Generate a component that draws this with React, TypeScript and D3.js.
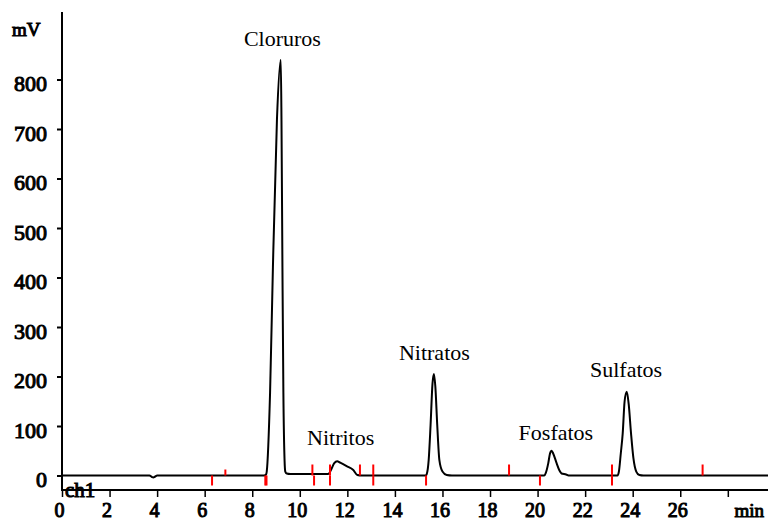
import React, { useEffect, useRef } from 'react';
import * as d3 from 'd3';

// chromatogram trace (min, mV)
const traceTimes = [
  0, 3.68, 3.78, 3.84, 3.92, 4.0,
  8.5, 8.58, 8.61, 8.75, 8.87, 9.04, 9.2, 9.23, 9.27, 9.31, 9.36, 9.39, 9.45, 9.6,
  10.0, 10.6, 11.2, 11.3, 11.45, 11.57, 11.7, 11.97, 12.25, 12.42, 12.6,
  15.3, 15.34, 15.42, 15.5, 15.58, 15.64, 15.7, 15.78, 15.87, 16.0, 16.18, 16.4,
  20.28, 20.35, 20.45, 20.52, 20.59, 20.66, 20.8, 20.92, 21.01, 21.2, 21.3,
  23.36, 23.42, 23.5, 23.58, 23.66, 23.75, 23.83, 23.93, 24.03, 24.15, 24.28, 24.45,
  29.7,
];
const traceValues = [
  0, 0, -3, -4, -2, 0,
  0, 2, 8, 167, 421, 720, 840, 717, 421, 167, 30, 8, 4, 3,
  3, 3, 3, 10, 25, 29, 26, 19, 11, 1, 0,
  0, 3, 31, 102, 185, 205, 180, 102, 31, 8, 1, 0,
  0, 6, 25, 44, 50, 44, 25, 10, 4, 2, 0,
  0, 8, 45, 85, 150, 169, 145, 85, 35, 8, 1, 0,
  0,
];

const peakNames = ['Cloruros', 'Nitritos', 'Nitratos', 'Fosfatos', 'Sulfatos'];
const peakLabelTimes = [9.27, 11.72, 15.66, 20.77, 23.72];
const peakLabelValues = [868, 62, 233, 72, 199];

// red integration marks
const markUpTimes = [10.53, 11.27, 12.53, 13.09, 18.8, 23.13, 26.94];
const markSmallTimes = [6.87];
const markDownTimes = [6.31, 8.55, 8.6, 10.6, 11.27, 13.09, 15.31, 20.1, 23.13];

const yTicks = [0, 100, 200, 300, 400, 500, 600, 700, 800];
const xTicks = [0, 2, 4, 6, 8, 10, 12, 14, 16, 18, 20, 22, 24, 26, 28];
const xTickLabels = ['0', '2', '4', '6', '8', '10', '12', '14', '16', '18', '20', '22', '24', '26', ''];

const serif = "'Liberation Serif', 'Times New Roman', serif";

// no bold face for the serif here, so thicken the glyphs with a stroke
const boldText = (sel: any, size: number) => sel
  .attr('font-family', serif).attr('font-size', size).attr('font-weight', 'normal')
  .attr('fill', '#000').attr('stroke', '#000').attr('stroke-width', 1);

const App = () => {
  const chartRef = useRef<SVGSVGElement>(null);

  useEffect(() => {
    const svg = d3.select(chartRef.current);
    svg.selectAll('*').remove();

    const x = d3.scaleLinear().domain([0, 29.69]).range([62, 768]);
    const y = d3.scaleLinear().domain([0, 800]).range([475.5, 79.5]);
    const axisY = 490;

    // axis lines
    svg.append('line')
      .attr('x1', 62).attr('x2', 62).attr('y1', 12).attr('y2', axisY)
      .attr('stroke', '#000').attr('stroke-width', 2);
    svg.append('line')
      .attr('x1', 61).attr('x2', 768).attr('y1', axisY).attr('y2', axisY)
      .attr('stroke', '#000').attr('stroke-width', 2);

    // y axis
    const gy = svg.append('g')
      .attr('transform', 'translate(62,0)')
      .call(d3.axisLeft(y).tickValues(yTicks).tickSize(5).tickPadding(10).tickFormat(d3.format('d')));
    gy.select('.domain').remove();
    gy.selectAll('line').attr('stroke-width', 2);
    boldText(gy.selectAll('text'), 22).attr('dy', '0.5em');

    // x axis
    const gx = svg.append('g')
      .attr('transform', `translate(0,${axisY})`)
      .call(d3.axisBottom(x).tickValues(xTicks).tickSize(7).tickPadding(7)
        .tickFormat((d, i) => xTickLabels[i]));
    gx.select('.domain').remove();
    gx.selectAll('line').attr('stroke-width', 1.5);
    boldText(gx.selectAll('text'), 20).attr('dx', -3).attr('dy', '0.66em');

    boldText(svg.append('text'), 19)
      .attr('x', 764).attr('y', 517)
      .attr('text-anchor', 'end')
      .text('min');
    boldText(svg.append('text'), 19)
      .attr('x', 12).attr('y', 36)
      .text('mV');
    boldText(svg.append('text'), 21)
      .attr('x', 65).attr('y', 497)
      .text('ch1');

    // trace
    const points = traceTimes.map((t, i) => [t, traceValues[i]] as [number, number]);
    const line = d3.line<[number, number]>()
      .x(d => x(d[0]))
      .y(d => y(d[1]))
      .curve(d3.curveMonotoneX);
    svg.append('path')
      .datum(points)
      .attr('fill', 'none')
      .attr('stroke', '#000')
      .attr('stroke-width', 2)
      .attr('stroke-linejoin', 'round')
      .attr('d', line);

    // red marks
    const marks = svg.append('g').attr('stroke', '#ff0000').attr('stroke-width', 2);
    marks.selectAll('.up').data(markUpTimes).join('line')
      .attr('x1', d => x(d)).attr('x2', d => x(d))
      .attr('y1', y(0) - 11).attr('y2', y(0));
    marks.selectAll('.small').data(markSmallTimes).join('line')
      .attr('x1', d => x(d)).attr('x2', d => x(d))
      .attr('y1', y(0) - 6).attr('y2', y(0));
    marks.selectAll('.down').data(markDownTimes).join('line')
      .attr('x1', d => x(d)).attr('x2', d => x(d))
      .attr('y1', y(0)).attr('y2', y(0) + 10);

    // peak labels
    svg.append('g').selectAll('text').data(peakNames).join('text')
      .attr('x', (d, i) => x(peakLabelTimes[i]))
      .attr('y', (d, i) => y(peakLabelValues[i]))
      .attr('text-anchor', 'middle')
      .attr('font-family', serif).attr('font-size', 22)
      .text(d => d);
  }, []);

  return (
    <svg ref={chartRef} width={768} height={520}
      style={{ position: 'absolute', left: 0, top: 0, background: '#fff' }} />
  );
};

export default App;
